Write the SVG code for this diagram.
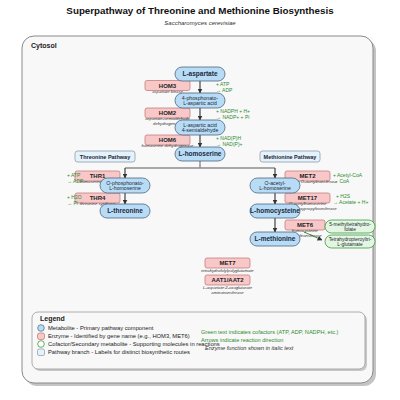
<svg xmlns="http://www.w3.org/2000/svg" width="400" height="400" viewBox="0 0 400 400">
<defs>
<marker id="ah" viewBox="0 0 10 10" refX="9" refY="5" markerWidth="5" markerHeight="5" orient="auto" markerUnits="userSpaceOnUse"><path d="M0,0 L10,5 L0,10 z" fill="#333"/></marker>
<style>
text{font-family:"Liberation Sans",Arial,sans-serif;}
.met rect{fill:#b9dcf6;stroke:#4a6680;stroke-width:0.8;}
.met text{font-size:5.2px;fill:#1a2a3a;text-anchor:middle;}
.met .b{font-size:6.5px;font-weight:bold;}
.enz rect{fill:#f8c8c8;stroke:#c07070;stroke-width:0.7;}
.enz .n{font-size:6px;font-weight:bold;text-anchor:middle;fill:#222;}
.enz .s{font-size:4.2px;font-style:italic;text-anchor:middle;fill:#333;}
.cof{font-size:5px;fill:#2e8b2e;}
.sec rect{fill:#e2f6e2;stroke:#3c9a3c;stroke-width:0.8;}
.sec text{font-size:4.8px;text-anchor:middle;fill:#223;}
.pw rect{fill:#e4f3fb;stroke:#8a9aa8;stroke-width:0.8;}
.pw text{font-size:5.5px;font-weight:bold;text-anchor:middle;fill:#223;}
.arr{stroke:#444;stroke-width:1.2;fill:none;marker-end:url(#ah);}
.br{stroke:#8c8c8c;stroke-width:1.4;fill:none;}
.garr{stroke:#3a9a3a;stroke-width:1;fill:none;marker-end:url(#ah);}
.leg{font-size:5.8px;fill:#222;}
</style>
</defs>
<rect width="400" height="400" fill="#fff"/>
<text x="200" y="14" font-size="9.8" font-weight="bold" text-anchor="middle" fill="#111">Superpathway of Threonine and Methionine Biosynthesis</text>
<text x="200" y="25" font-size="6" font-style="italic" text-anchor="middle" fill="#333">Saccharomyces cerevisiae</text>

<g id="cytosol">
<rect x="25" y="39" width="351" height="347" rx="12" fill="#c4c4c4"/>
<rect x="22" y="36" width="351" height="347" rx="12" fill="#f8f8f8" stroke="#8a8a8a" stroke-width="1"/>
<text x="31" y="48" font-size="7" font-weight="bold" fill="#222">Cytosol</text>
</g>

<g id="connectors">
<line class="arr" x1="200" y1="81" x2="200" y2="93"/>
<line class="arr" x1="200" y1="108" x2="200" y2="120"/>
<line class="arr" x1="200" y1="135" x2="200" y2="147"/>
<polyline class="br" points="200,161 200,168"/>
<line class="br" x1="125" y1="168" x2="275" y2="168"/>
<line class="arr" x1="125" y1="168" x2="125" y2="178"/>
<line class="arr" x1="275" y1="168" x2="275" y2="178"/>
<line class="arr" x1="125" y1="193" x2="125" y2="204"/>
<line class="arr" x1="275" y1="193" x2="275" y2="204"/>
<line class="arr" x1="275" y1="218" x2="275" y2="232"/>
<line class="garr" x1="326" y1="225" x2="306" y2="225"/>
<line class="garr" x1="304" y1="232" x2="322" y2="240"/>
</g>

<g id="n-hom3" class="enz"><rect x="145" y="80.5" width="45" height="10" rx="2"/><text class="n" x="167.5" y="87.6">HOM3</text><text class="s" x="167.5" y="92.5">aspartate kinase</text></g>
<g id="n-hom2" class="enz"><rect x="145" y="108" width="45" height="10" rx="2"/><text class="n" x="167.5" y="115.1">HOM2</text><text class="s" x="167.5" y="120">aspartate-semialdehyde</text><text class="s" x="167.5" y="125">dehydrogenase</text></g>
<g id="n-hom6" class="enz"><rect x="145" y="135" width="45" height="10" rx="2"/><text class="n" x="167.5" y="142.1">HOM6</text><text class="s" x="167.5" y="147">homoserine dehydrogenase</text></g>
<g id="n-thr1" class="enz"><rect x="75" y="171" width="45" height="10" rx="2"/><text class="n" x="97.5" y="178.1">THR1</text><text class="s" x="97.5" y="183">homoserine kinase</text></g>
<g id="n-thr4" class="enz"><rect x="75" y="193" width="45" height="10" rx="2"/><text class="n" x="97.5" y="200.1">THR4</text><text class="s" x="97.5" y="205">threonine synthase</text></g>
<g id="n-met2" class="enz"><rect x="285" y="171" width="45" height="10" rx="2"/><text class="n" x="307.5" y="178.1">MET2</text><text class="s" x="307.5" y="183">homoserine O-acetyltransferase</text></g>
<g id="n-met17" class="enz"><rect x="285" y="193" width="45" height="10" rx="2"/><text class="n" x="307.5" y="200.1">MET17</text><text class="s" x="307.5" y="205">O-acetylhomoserine</text><text class="s" x="307.5" y="210">aminocarboxypropyltransferase</text></g>
<g id="n-met6" class="enz"><rect x="285" y="220" width="40" height="10" rx="2"/><text class="n" x="305" y="227.1">MET6</text><text class="s" x="305" y="232">homocysteine</text><text class="s" x="305" y="237">methyltransferase</text></g>
<g id="n-met7" class="enz"><rect x="205" y="258" width="45" height="10" rx="2"/><text class="n" x="227.5" y="265.1">MET7</text><text class="s" x="227.5" y="271.5">tetrahydrofolylpolyglutamate</text><text class="s" x="227.5" y="276.5">synthase</text></g>
<g id="n-aat" class="enz"><rect x="205" y="275" width="45" height="10" rx="2"/><text class="n" x="227.5" y="282.1">AAT1/AAT2</text><text class="s" x="227.5" y="288.5">L-aspartate:2-oxoglutarate</text><text class="s" x="227.5" y="293.5">aminotransferase</text></g>

<g id="n-l-aspartate" class="met"><rect x="175" y="67" width="50" height="14" rx="7"/><text class="b" x="200" y="76.3">L-aspartate</text></g>
<g id="n-4-phosphonato" class="met"><rect x="175" y="93" width="50" height="15" rx="7.5"/><text x="200" y="99.5">4-phosphonato-</text><text x="200" y="105.3">L-aspartic acid</text></g>
<g id="n-semialdehyde" class="met"><rect x="175" y="120" width="50" height="15" rx="7.5"/><text x="200" y="126.5">L-aspartic acid</text><text x="200" y="132.3">4-semialdehyde</text></g>
<g id="n-l-homoserine" class="met"><rect x="175" y="147" width="50" height="14" rx="7"/><text class="b" x="200" y="156.3">L-homoserine</text></g>
<g id="n-o-phosphonato" class="met"><rect x="100" y="178" width="50" height="15" rx="7.5"/><text x="125" y="184.5">O-phosphonato-</text><text x="125" y="190.3">L-homoserine</text></g>
<g id="n-l-threonine" class="met"><rect x="100" y="204" width="50" height="14" rx="7"/><text class="b" x="125" y="213.3">L-threonine</text></g>
<g id="n-o-acetyl" class="met"><rect x="250" y="178" width="50" height="15" rx="7.5"/><text x="275" y="184.5">O-acetyl-</text><text x="275" y="190.3">L-homoserine</text></g>
<g id="n-l-homocysteine" class="met"><rect x="250" y="204" width="50" height="14" rx="7"/><text class="b" x="275" y="213.3">L-homocysteine</text></g>
<g id="n-l-methionine" class="met"><rect x="250" y="232" width="50" height="14" rx="7"/><text class="b" x="275" y="241.3">L-methionine</text></g>

<g id="cofactors">
<text class="cof" x="216" y="86">+ ATP</text><text class="cof" x="216" y="91.5">→ ADP</text>
<text class="cof" x="216" y="113">+ NADPH + H+</text><text class="cof" x="216" y="118.5">→ NADP+ + Pi</text>
<text class="cof" x="216" y="140">+ NAD(P)H</text><text class="cof" x="216" y="145.5">→ NAD(P)+</text>
<text class="cof" x="67" y="177">+ ATP</text><text class="cof" x="67" y="182.5">→ ADP</text>
<text class="cof" x="67" y="199">+ H2O</text><text class="cof" x="67" y="204.5">→ Pi</text>
<text class="cof" x="333" y="177">+ Acetyl-CoA</text><text class="cof" x="333" y="182.5">→ CoA</text>
<text class="cof" x="336" y="198">+ H2S</text><text class="cof" x="333" y="203.5">→ Acetate + H+</text>
</g>

<g id="n-5-methyl" class="sec"><rect x="325" y="220" width="50" height="13" rx="6.5"/><text x="350" y="225.5">5-methyltetrahydro-</text><text x="350" y="230.8">folate</text></g>
<g id="n-thpg" class="sec"><rect x="325" y="235" width="50" height="13" rx="6.5"/><text x="350" y="240.5">Tetrahydropteroyltri-</text><text x="350" y="245.8">L-glutamate</text></g>

<g id="pw-threonine" class="pw"><rect x="75" y="151" width="60" height="11" rx="2.5"/><text x="105" y="158.5">Threonine Pathway</text></g>
<g id="pw-methionine" class="pw"><rect x="260" y="151" width="60" height="11" rx="2.5"/><text x="290" y="158.5">Methionine Pathway</text></g>

<g id="legend">
<rect x="34" y="314" width="333" height="57" rx="6" fill="#c8c8c8"/>
<rect x="32" y="312" width="333" height="57" rx="6" fill="#f8f8f8" stroke="#999" stroke-width="0.8"/>
<text x="40" y="321" font-size="7" font-weight="bold" fill="#222">Legend</text>
<circle cx="41" cy="328" r="3.3" fill="#b9dcf6" stroke="#4a6680" stroke-width="0.7"/>
<text class="leg" x="48" y="330">Metabolite - Primary pathway component</text>
<rect x="37.5" y="333" width="7" height="6.5" rx="2" fill="#f8c8c8" stroke="#c07070" stroke-width="0.7"/>
<text class="leg" x="48" y="338">Enzyme - Identified by gene name (e.g., HOM3, MET6)</text>
<circle cx="41" cy="344" r="3.3" fill="#fff" stroke="#3c9a3c" stroke-width="0.8"/>
<text class="leg" x="48" y="346">Cofactor/Secondary metabolite - Supporting molecules in reactions</text>
<rect x="37.5" y="349" width="7" height="6.5" rx="1.5" fill="#e4f3fb" stroke="#8a9aa8" stroke-width="0.7"/>
<text class="leg" x="48" y="354">Pathway branch - Labels for distinct biosynthetic routes</text>
<text x="201" y="334" font-size="5.6" fill="#2e8b2e">Green text indicates cofactors (ATP, ADP, NADPH, etc.)</text>
<text x="201" y="342" font-size="5.6" fill="#2e8b2e">Arrows indicate reaction direction</text>
<text x="205" y="350" font-size="5.6" font-style="italic" fill="#333">Enzyme function shown in italic text</text>
</g>
</svg>
